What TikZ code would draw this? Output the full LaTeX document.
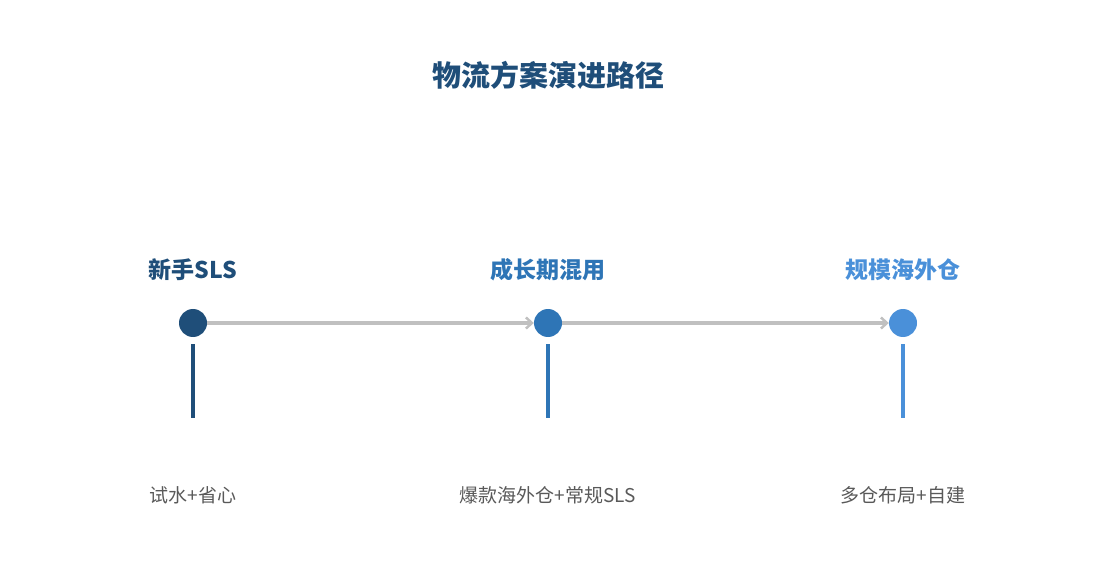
\documentclass[tikz,border=0pt]{standalone}
\usepackage{fontspec}
\usepackage{xcolor}
\setmainfont{Noto Sans CJK SC}
\definecolor{stepdark}{HTML}{1F4E79}
\definecolor{stepmid}{HTML}{2E75B6}
\definecolor{steplight}{HTML}{4A90D9}
\definecolor{flowgray}{HTML}{C0C0C0}
\definecolor{notegray}{HTML}{595959}
\usetikzlibrary{arrows.meta}
\begin{document}
\begin{tikzpicture}[x=1pt, y=-1pt,
    dot/.style={circle, fill=#1, minimum size=28pt, inner sep=0pt},
    stagelabel/.style={text=#1, font=\fontsize{23}{26}\selectfont\bfseries},
    stem/.style={draw=#1, line width=3.5pt},
    note/.style={text=notegray, font=\fontsize{19}{23}\selectfont},
    flow/.style={draw=flowgray, line width=3.5pt, -{Straight Barb[length=6pt, width=11pt, line width=2.5pt]}}]
\useasboundingbox (0,0) rectangle (1095,585);
\node[text=stepdark, font=\fontsize{29}{34}\selectfont\bfseries] (title) at (548,75) {物流方案演进路径};
% stages
\node[dot=stepdark] (d1) at (193,323) {};
\node[dot=stepmid] (d2) at (548,323) {};
\node[dot=steplight] (d3) at (903,323) {};
\node[stagelabel=stepdark] (s1) at (193,270) {新手SLS};
\node[stagelabel=stepmid] (s2) at (548,270) {成长期混用};
\node[stagelabel=steplight] (s3) at (903,270) {规模海外仓};
\draw[flow] (d1) -- (d2);
\draw[flow] (d2) -- (d3);
% stems
\coordinate (t1) at (193,344); \coordinate (b1) at (193,418);
\coordinate (t2) at (548,344); \coordinate (b2) at (548,418);
\coordinate (t3) at (903,344); \coordinate (b3) at (903,418);
\draw[stem=stepdark] (t1) -- (b1);
\draw[stem=stepmid] (t2) -- (b2);
\draw[stem=steplight] (t3) -- (b3);
\node[note] (n1) at (193,495) {试水+省心};
\node[note] (n2) at (548,495) {爆款海外仓+常规SLS};
\node[note] (n3) at (903,495) {多仓布局+自建};
\end{tikzpicture}
\end{document}
